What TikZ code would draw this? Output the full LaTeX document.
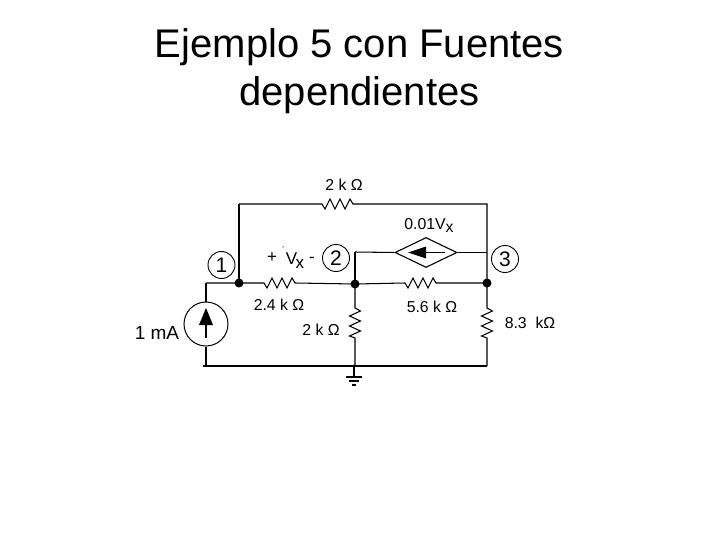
\documentclass[tikz,border=0pt]{standalone}
\usepackage{fontspec}
\setmainfont{Liberation Sans}
\usetikzlibrary{shapes.geometric,arrows.meta}
\tikzset{
  wire/.style={draw=black,line width=1.05pt},
  thick wire/.style={draw=black,line width=1.7pt},
  dot/.style={circle,fill=black,draw=none,minimum size=9pt,inner sep=0pt},
  lbl/.style={inner sep=0pt,text=black,font=\fontsize{15.8}{18}\selectfont},
  numcircle/.style={circle,draw=black,line width=0.9pt,minimum size=27pt,inner sep=0pt,font=\fontsize{21}{23}\selectfont},
  title/.style={inner sep=0pt,align=center,font=\fontsize{40}{48}\selectfont,text=black}
}
\begin{document}
\begin{tikzpicture}[x=1pt,y=-1pt]
\useasboundingbox (0,0) rectangle (720,540);
\fill[white] (0,0) rectangle (720,540);
\node[title] (t) at (359.5,71) {Ejemplo 5 con Fuentes\\dependientes};

\node[dot] (n1) at (239,283) {};
\node[dot] (n2) at (355,284) {};
\node[dot] (n3) at (487,283) {};
\coordinate (tl) at (239,204);
\coordinate (tr) at (487,204);
\coordinate (cl) at (355,252);
\coordinate (ll) at (206,283);
\coordinate (bl) at (206,366);
\coordinate (bm) at (354,366);
\coordinate (br) at (487,366);
\coordinate (gnd) at (354,377);

% wires
\draw[thick wire] (n1.center) -- (tl);
\draw[wire] (tl) -- (322,204) -- ++(3,5) -- ++(5,-10) -- ++(5,10) -- ++(5,-10) -- ++(5,10) -- ++(5,-10) -- ++(3,5) -- (tr) -- (n3.center);
\draw[wire] (ll) -- (n1.center) -- (264,283) -- ++(3,5) -- ++(5,-10) -- ++(5,10) -- ++(5,-10) -- ++(5,10) -- ++(5,-10) -- ++(3,5) -- (n2.center);
\draw[wire] (n2.center) -- (405,283) -- ++(3,5) -- ++(5,-10) -- ++(5,10) -- ++(5,-10) -- ++(5,10) -- ++(5,-10) -- ++(3,5) -- (n3.center);
\draw[wire] (n2.center) -- (355,308) -- ++(5.5,3) -- ++(-11,5) -- ++(11,5) -- ++(-11,5) -- ++(11,5) -- ++(-11,5) -- (355,338) -- (355,366);
\draw[wire] (n3.center) -- (487,308) -- ++(5.5,3) -- ++(-11,5) -- ++(11,5) -- ++(-11,5) -- ++(11,5) -- ++(-11,5) -- (487,338) -- (br);
\draw[wire] (n2.center) -- (cl);

% dependent source
\node[diamond,draw=black,line width=1.1pt,minimum width=62pt,minimum height=30pt,inner sep=0pt,aspect=2,fill=white] (dep) at (426,252.5) {};
\draw[wire] (cl) -- (dep.west);
\draw[wire] (dep.east) -- (487,252.5);
\draw[wire] (dep.center) ++(19,0) -- (dep.center);
\fill[black] (408,252.5) -- (426,246.5) -- (426,258.5) -- cycle;

% independent source
\node[circle,draw=black,line width=1pt,minimum size=44pt,inner sep=0pt] (src) at (206,324) {};
\draw[wire] (ll) -- (src.north);
\draw[wire] (src.south) -- (bl);
\draw[wire] (206,338) -- (206,320);
\fill[black] (206,308) -- (199,325) -- (213,325) -- cycle;

% bottom wire and ground
\draw[thick wire] (203,366) -- (br);
\fill[black] (bm) circle (1.7pt);
\draw[wire] (bm) -- (gnd);
\coordinate (g2) at (354,381);
\coordinate (g3) at (354,385);
\draw[line width=1.1pt] (gnd) ++(-8,0) -- ++(16,0);
\draw[line width=1.1pt] (g2) ++(-5,0) -- ++(10,0);
\draw[line width=1.1pt] (g3) ++(-2,0) -- ++(4,0);

% numbered circles
\node[numcircle] (c1) at (221.5,265) {1};
\node[numcircle] (c2) at (336,258) {2};
\node[numcircle] (c3) at (505,259) {3};

% labels
\node[lbl] (l1) at (344,185) {2 k Ω};
\node[lbl] (l2) at (429,225) {0.01V\raisebox{-3pt}{x}};
\node[lbl] (l3) at (279,305) {2.4 k Ω};
\node[lbl] (l4) at (321,330) {2 k Ω};
\node[lbl] (l5) at (432,306.5) {5.6 k Ω};
\node[lbl] (l6) at (530,323) {8.3\ \ kΩ};
\node[lbl,font=\fontsize{19}{21}\selectfont] (l7) at (157,333) {1 mA};
\node[lbl,font=\fontsize{17}{19}\selectfont] (l8) at (272,258) {+};
\node[lbl,font=\fontsize{17}{19}\selectfont] (l9) at (312,260) {-};
\node[lbl,font=\fontsize{17}{19}\selectfont] (l10) at (295,261) {V\kern-1.5pt\raisebox{-4pt}{x}};
\node[lbl,font=\fontsize{9}{10}\selectfont] (l12) at (283.5,250) {´};
\end{tikzpicture}
\end{document}
